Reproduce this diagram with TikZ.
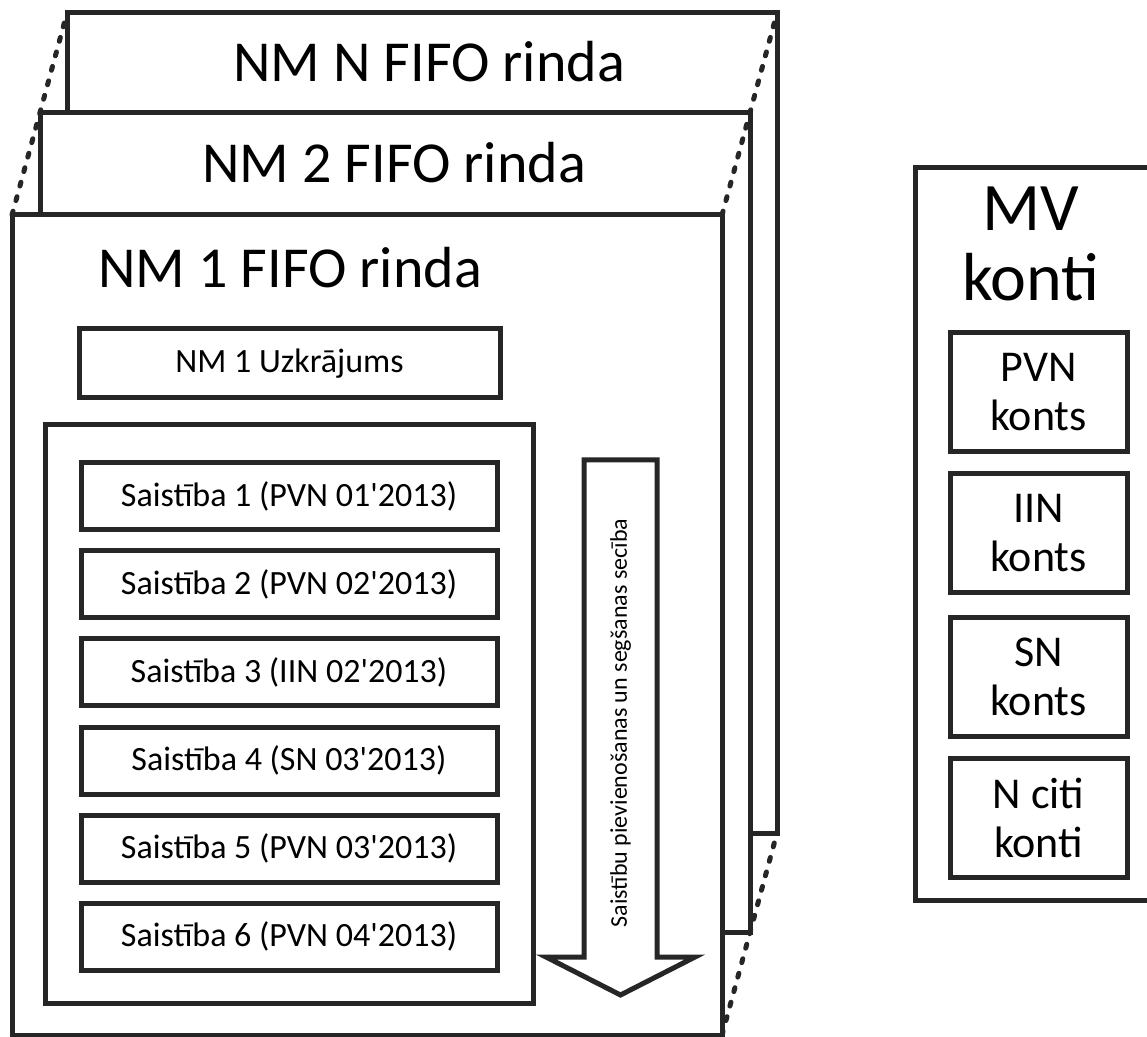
\documentclass[tikz,border=0pt]{standalone}
\usepackage{fontspec}
\setmainfont{Carlito}[Ligatures=TeXOff]
\definecolor{framegray}{HTML}{262626}
\tikzset{
  frame/.style={draw=framegray, line width=2.5pt, fill=white, inner sep=0pt, outer sep=0pt},
  queue/.style={frame, minimum width=355pt, minimum height=410pt},
  qtitle/.style={anchor=base, font=\fontsize{29}{34}\selectfont},
  debt/.style={frame, minimum width=208pt, minimum height=33.5pt, font=\fontsize{17}{20}\selectfont},
  acct/.style={frame, minimum width=88.5pt, minimum height=59.5pt, align=center, font=\fontsize{22}{24.5}\selectfont},
  linkdash/.style={draw=framegray, line width=2.5pt, line cap=round, dash pattern=on 2pt off 5.5pt}
}
\begin{document}
\begin{tikzpicture}[x=0.5pt,y=-0.5pt]
				\useasboundingbox (0,0) rectangle (1147,1037);
				\node[queue] (qN) at (422,423) {};
				\node[qtitle] (tN) at (429,82) {NM N FIFO rinda};
				\node[queue] (q2) at (395,522.5) {};
				\node[qtitle] (t2) at (394,183) {NM 2 FIFO rinda};
				\node[queue] (q1) at (367,625) {};
				\node[qtitle] (t1) at (290,288) {NM 1 FIFO rinda};
				\draw[linkdash] (q1.north west) -- (q2.north west) -- (qN.north west);
				\draw[linkdash] (q1.north east) -- (q2.north east) -- (qN.north east);
				\draw[linkdash] (q1.south east) -- (q2.south east) -- (qN.south east);
				\node[frame, minimum width=210.5pt, minimum height=34.5pt, font=\fontsize{17}{20}\selectfont] (uzkr) at (289.5,363.5) {NM 1 Uzkrājums};
				\node[frame, minimum width=244pt, minimum height=289pt] (saist) at (289,714) {};
				\foreach \code [count=\i] in {PVN 01'2013, PVN 02'2013, IIN 02'2013, SN 03'2013, PVN 03'2013, PVN 04'2013}
					\node[debt] (s\i) at (289,{496.5+88*(\i-1)}) {Saistība \i\ (\code)};
				\draw[frame] (584,460) -- (657,460) -- (657,957) -- (695,957) -- (620.5,995) -- (546,957) -- (584,957) -- cycle;
				\node[rotate=90, font=\fontsize{12}{14}\selectfont] (seciba) at (620.5,723) {Saistību pievienošanas un segšanas secība};
				\node[frame, minimum width=132.5pt, minimum height=366pt] (mv) at (1047.5,534) {};
				\node[align=center, font=\fontsize{34}{35}\selectfont] (mvt) at (1031,244) {MV\\konti};
				\node[acct] (pvn) at (1038.5,392.5) {PVN\\konts};
				\node[acct] (iin) at (1038.5,533) {IIN\\konts};
				\node[acct] (sn) at (1038.5,677) {SN\\konts};
				\node[acct] (citi) at (1038.5,817.5) {N citi\\konti};
\end{tikzpicture}
\end{document}
